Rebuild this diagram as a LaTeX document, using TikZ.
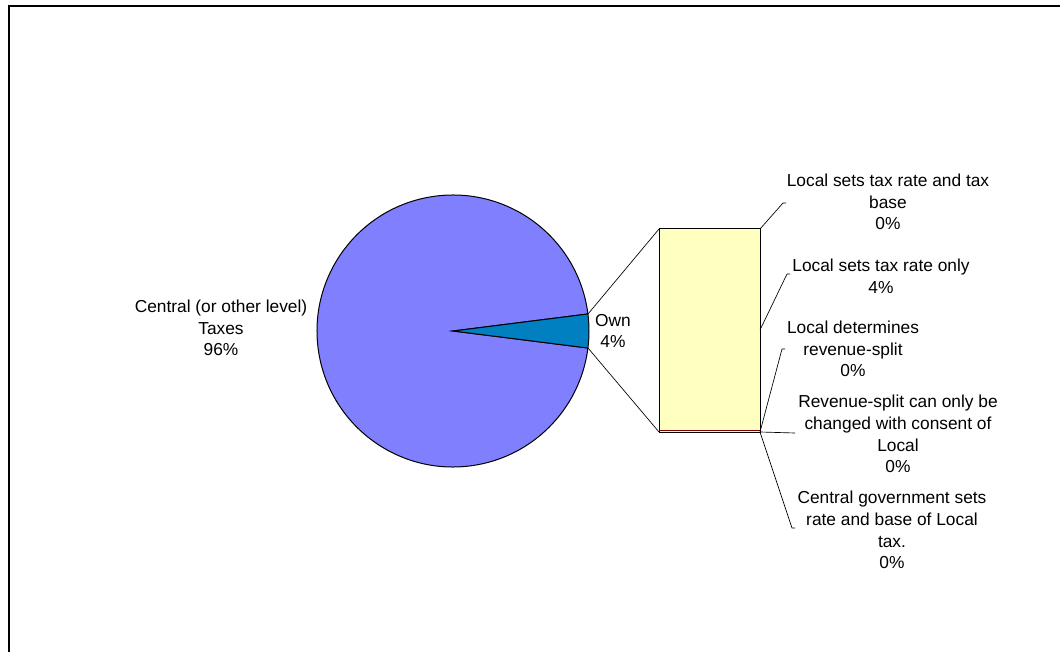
\documentclass[tikz,border=0pt]{standalone}
\usepackage{fontspec}
\setmainfont{Liberation Sans}
\definecolor{centralblue}{HTML}{8080FF}
\definecolor{ownblue}{HTML}{0080C0}
\definecolor{barfill}{HTML}{FFFFC0}
\definecolor{sliver}{HTML}{800000}
\begin{document}
\begin{tikzpicture}[
		x=0.75pt, y=-0.75pt,
		lbl/.style={align=center, inner sep=0pt, font=\fontsize{13}{16.3}\selectfont},
		leader/.style={draw=black, line width=0.5pt},
		slice/.style={draw=black, line width=0.75pt}
		]
		\useasboundingbox (0,0) rectangle (1060,652);
		\draw[line width=1.5pt] (9,700) -- (9,6) -- (1100,6);
		
		% pie
		\coordinate (c) at (453,331);
		\filldraw[slice, fill=centralblue] (c) -- ++(7.2:102pt) arc[start angle=7.2, end angle=352.8, radius=102pt] -- cycle;
		\filldraw[slice, fill=ownblue] (c) -- ++(-7.2:102pt) arc[start angle=-7.2, end angle=7.2, radius=102pt] -- cycle;
		\coordinate (ownTop) at (588,314);
		\coordinate (ownBot) at (588,348);
		
		% bar
		\coordinate (barTL) at (659,229);
		\coordinate (barBL) at (659,432);
		\coordinate (barTR) at (760,229);
		\coordinate (barMR) at (760,330);
		\coordinate (barBR) at (760,432);
		\filldraw[slice, fill=barfill] (barTL) rectangle (barBR);
		\draw[sliver, line width=1pt] (659,430.5) -- (760,430.5);
		\draw[black, line width=0.75pt] (barBL) -- (barBR);
		
		\draw[leader] (ownTop) -- (barTL);
		\draw[leader] (ownBot) -- (barBL);
		
		% labels
		\node[lbl] (central) at (221,328) {Central (or other level)\\Taxes\\96\%};
		\node[lbl] (own) at (613,331) {Own\\4\%};
		\node[lbl] (rateBase) at (888,202) {Local sets tax rate and tax\\base\\0\%};
		\node[lbl] (rateOnly) at (881,276) {Local sets tax rate only\\4\%};
		\node[lbl] (revSplit) at (853,349) {Local determines\\revenue-split\\0\%};
		\node[lbl] (consent) at (898,434) {Revenue-split can only be\\changed with consent of\\Local\\0\%};
		\node[lbl] (centralSets) at (892,530) {Central government sets\\rate and base of Local\\tax.\\0\%};
		
		% leaders
		\coordinate (e1) at (783,203);
		\coordinate (e2) at (787,274);
		\coordinate (e3) at (782,349);
		\coordinate (e4) at (795,433);
		\coordinate (e5) at (792,528);
		\draw[leader] (barTR) -- (e1) -- ++(3,0);
		\draw[leader] (barMR) -- (e2) -- ++(3,0);
		\draw[leader] (barBR) -- (e3) -- ++(3,0);
		\draw[leader] (barBR) -- (e4);
		\draw[leader] (barBR) -- (e5) -- ++(3,0);
		
		;
		\end{tikzpicture}
\end{document}
